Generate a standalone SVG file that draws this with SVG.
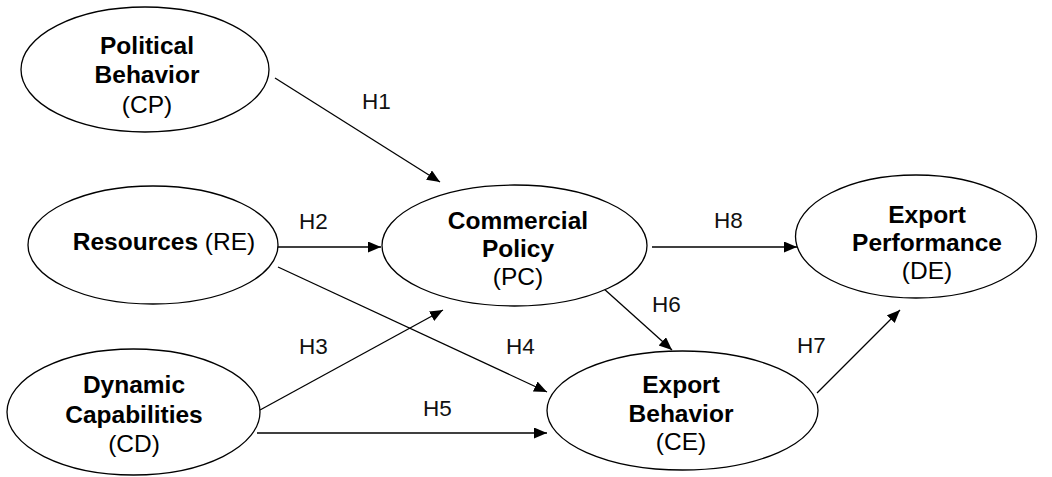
<svg xmlns="http://www.w3.org/2000/svg" width="1052" height="477" viewBox="0 0 1052 477">
<style>
.node ellipse{fill:#fff;stroke:#000;stroke-width:1.3}
.t{font-family:"Liberation Sans",Arial,sans-serif;font-size:24.5px;fill:#000;text-anchor:middle}
.b{font-weight:bold}
.lbl{font-family:"Liberation Sans",Arial,sans-serif;font-size:22.5px;fill:#111}
.c line{stroke:#000;stroke-width:1.3;marker-end:url(#ah)}
</style>
<defs>
<marker id="ah" markerUnits="userSpaceOnUse" markerWidth="14" markerHeight="12" refX="13" refY="5.5" orient="auto">
<path d="M0,0 L13,5.5 L0,11 Z" fill="#000"/>
</marker>
</defs>
<rect width="1052" height="477" fill="#fff"/>
<g id="connectors" class="c">
<line x1="275" y1="78" x2="440" y2="182"/>
<line x1="278" y1="247" x2="381" y2="247"/>
<line x1="260" y1="410" x2="443" y2="310"/>
<line x1="278" y1="267" x2="547" y2="392"/>
<line x1="257" y1="433" x2="547" y2="433"/>
<line x1="603" y1="288" x2="672" y2="350"/>
<line x1="817" y1="393" x2="900" y2="310"/>
<line x1="652" y1="247" x2="797" y2="247"/>
</g>
<g id="labels">
<text class="lbl" x="362" y="109">H1</text>
<text class="lbl" x="299" y="229">H2</text>
<text class="lbl" x="299" y="354">H3</text>
<text class="lbl" x="506" y="354">H4</text>
<text class="lbl" x="423" y="416">H5</text>
<text class="lbl" x="652" y="312">H6</text>
<text class="lbl" x="797" y="353">H7</text>
<text class="lbl" x="714" y="228">H8</text>
</g>
<g id="political" class="node">
<ellipse cx="145" cy="69.5" rx="124" ry="62.5"/>
<text class="t b" x="147" y="54">Political</text>
<text class="t b" x="147" y="83">Behavior</text>
<text class="t" x="147" y="113">(CP)</text>
</g>
<g id="resources" class="node">
<ellipse cx="153" cy="245" rx="125" ry="59"/>
<text class="t" x="164" y="250"><tspan class="b" font-weight="bold">Resources</tspan> (RE)</text>
</g>
<g id="commercial" class="node">
<ellipse cx="514.5" cy="245.5" rx="132.5" ry="60.5"/>
<text class="t b" x="518" y="229">Commercial</text>
<text class="t b" x="518" y="257">Policy</text>
<text class="t" x="518" y="285">(PC)</text>
</g>
<g id="performance" class="node">
<ellipse cx="916" cy="236.5" rx="120.5" ry="61.5"/>
<text class="t b" x="927" y="223">Export</text>
<text class="t b" x="927" y="251">Performance</text>
<text class="t" x="927" y="279">(DE)</text>
</g>
<g id="dynamic" class="node">
<ellipse cx="133.5" cy="412" rx="126.5" ry="63"/>
<text class="t b" x="134" y="393">Dynamic</text>
<text class="t b" x="134" y="423">Capabilities</text>
<text class="t" x="134" y="452">(CD)</text>
</g>
<g id="behavior" class="node">
<ellipse cx="682.5" cy="410.5" rx="135.5" ry="59.5"/>
<text class="t b" x="681" y="393">Export</text>
<text class="t b" x="681" y="422">Behavior</text>
<text class="t" x="681" y="450">(CE)</text>
</g>
</svg>
